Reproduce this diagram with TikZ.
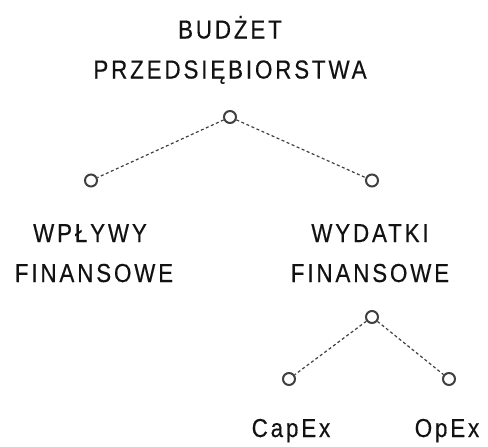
\documentclass[tikz,border=0pt]{standalone}
\usepackage{fontspec}
\setmainfont{Liberation Sans}[FakeStretch=0.86,LetterSpace=11,FakeBold=0.4]
\begin{document}
\begin{tikzpicture}[x=1pt,y=-1pt,
  dot/.style={circle,draw=black!75,line width=2pt,fill=white,minimum size=12pt,inner sep=0pt},
  link/.style={draw=black!75,line width=1.2pt,dash pattern=on 3pt off 2.5pt},
  lbl/.style={font=\fontsize{26pt}{30pt}\selectfont,text=black!93,inner sep=0pt,anchor=base,align=center}]
\useasboundingbox (0,0) rectangle (488,447);
\node[lbl] (t1) at (230,38.5) {BUDŻET};
\node[lbl] (t2) at (230,78.5) {PRZEDSIĘBIORSTWA};
\node[dot] (root) at (230,117) {};
\node[dot] (l) at (91,180.5) {};
\node[dot] (r) at (372,180.5) {};
\node[lbl] (w1) at (90,242) {WPŁYWY};
\node[lbl] (w2) at (94,282) {FINANSOWE};
\node[lbl] (y1) at (370,242) {WYDATKI};
\node[lbl] (y2) at (370,282) {FINANSOWE};
\node[dot] (sub) at (372,317) {};
\node[dot] (sl) at (289,379) {};
\node[dot] (sr) at (449,379) {};
\node[lbl] (c) at (291,437) {CapEx};
\node[lbl] (o) at (447,437) {OpEx};
\draw[link] (root) -- (l);
\draw[link] (root) -- (r);
\draw[link] (sub) -- (sl);
\draw[link] (sub) -- (sr);
\end{tikzpicture}
\end{document}
